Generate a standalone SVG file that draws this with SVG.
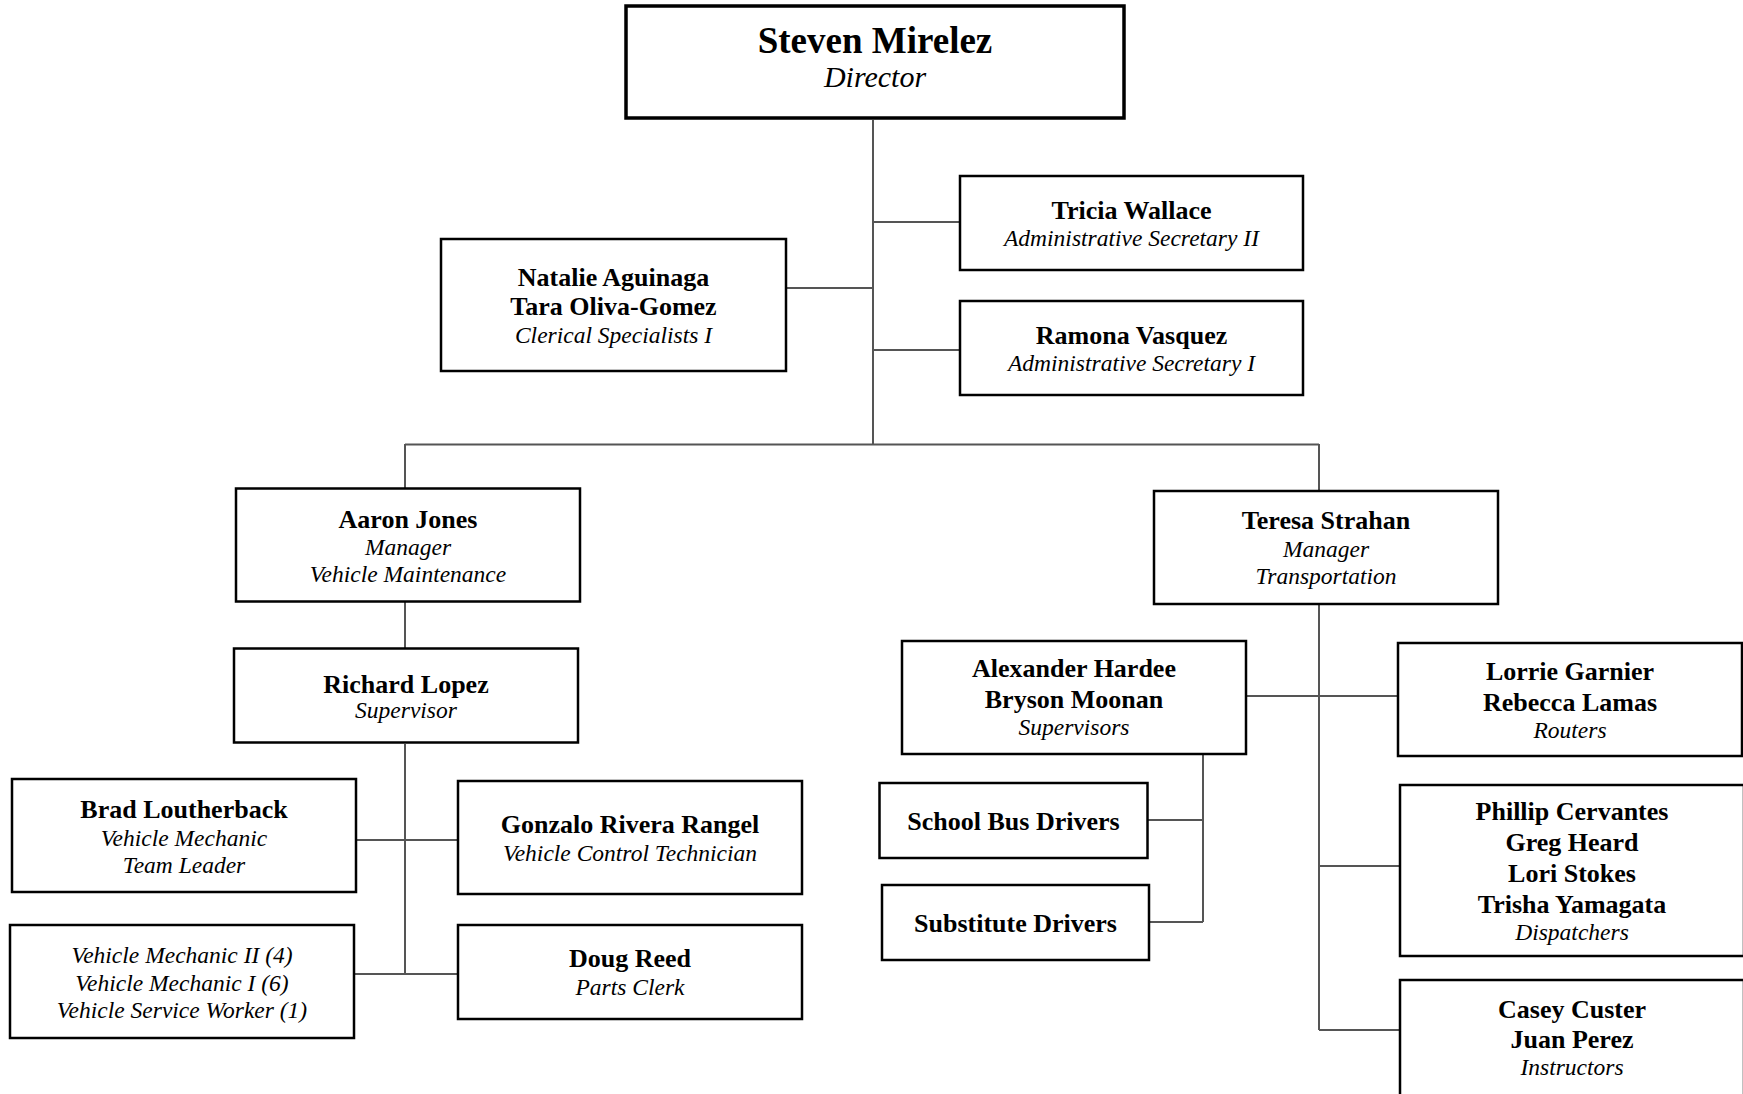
<svg xmlns="http://www.w3.org/2000/svg" width="1743" height="1094" viewBox="0 0 1743 1094">
<style>
.box{fill:#fff;stroke:#000;stroke-width:2.5}
.top{fill:#fff;stroke:#000;stroke-width:3.5}
.c{stroke:#555;stroke-width:2;fill:none}
text{font-family:"Liberation Serif","Times New Roman",serif;text-anchor:middle;fill:#000}
.n{font-weight:bold;font-size:26px}
.r{font-style:italic;font-size:23.5px}
.hn{font-weight:bold;font-size:37px}
.hr{font-style:italic;font-size:30px}
</style>
<rect width="1743" height="1094" fill="#fff"/>
<g id="connectors">
<path class="c" d="M873 120V445M873 222H959M873 350H959M787 288H873M405 444.5H1319M405 444V488M1319 444V490M405 602V648M405 744V974M357 840H457M355 974H457M1319 605V1030M1247 696H1397M1319 866H1399M1319 1030H1399M1203 755V922M1148 820H1203M1150 922H1203"/>
</g>
<g id="director">
<rect class="top" x="626" y="6" width="498" height="112"/>
<text class="hn" x="875" y="52.5">Steven Mirelez</text>
<text class="hr" x="875" y="87">Director</text>
</g>
<g id="tricia">
<rect class="box" x="960" y="176" width="343" height="94"/>
<text class="n" x="1131.5" y="219.3">Tricia Wallace</text>
<text class="r" x="1131.5" y="246">Administrative Secretary II</text>
</g>
<g id="ramona">
<rect class="box" x="960" y="301" width="343" height="94"/>
<text class="n" x="1131.5" y="344">Ramona Vasquez</text>
<text class="r" x="1131.5" y="371">Administrative Secretary I</text>
</g>
<g id="clerical">
<rect class="box" x="441" y="239" width="345" height="132"/>
<text class="n" x="613.5" y="286">Natalie Aguinaga</text>
<text class="n" x="613.5" y="315.3">Tara Oliva-Gomez</text>
<text class="r" x="613.5" y="343.3">Clerical Specialists I</text>
</g>
<g id="aaron">
<rect class="box" x="236" y="488.5" width="344" height="113"/>
<text class="n" x="408" y="527.7">Aaron Jones</text>
<text class="r" x="408" y="555">Manager</text>
<text class="r" x="408" y="581.7">Vehicle Maintenance</text>
</g>
<g id="richard">
<rect class="box" x="234" y="648.5" width="344" height="94"/>
<text class="n" x="406" y="693.3">Richard Lopez</text>
<text class="r" x="406" y="718.3">Supervisor</text>
</g>
<g id="brad">
<rect class="box" x="12" y="779" width="344" height="113"/>
<text class="n" x="184" y="818.3">Brad Loutherback</text>
<text class="r" x="184" y="846">Vehicle Mechanic</text>
<text class="r" x="184" y="872.7">Team Leader</text>
</g>
<g id="gonzalo">
<rect class="box" x="458" y="781" width="344" height="113"/>
<text class="n" x="630" y="832.7">Gonzalo Rivera Rangel</text>
<text class="r" x="630" y="861">Vehicle Control Technician</text>
</g>
<g id="mechanics">
<rect class="box" x="10" y="925" width="344" height="113"/>
<text class="r" x="182" y="963.3">Vehicle Mechanic II (4)</text>
<text class="r" x="182" y="991">Vehicle Mechanic I (6)</text>
<text class="r" x="182" y="1018.3">Vehicle Service Worker (1)</text>
</g>
<g id="doug">
<rect class="box" x="458" y="925" width="344" height="94"/>
<text class="n" x="630" y="967.3">Doug Reed</text>
<text class="r" x="630" y="995">Parts Clerk</text>
</g>
<g id="teresa">
<rect class="box" x="1154" y="491" width="344" height="113"/>
<text class="n" x="1326" y="529.3">Teresa Strahan</text>
<text class="r" x="1326" y="557.3">Manager</text>
<text class="r" x="1326" y="584">Transportation</text>
</g>
<g id="supervisors">
<rect class="box" x="902" y="641" width="344" height="113"/>
<text class="n" x="1074" y="677.3">Alexander Hardee</text>
<text class="n" x="1074" y="708.3">Bryson Moonan</text>
<text class="r" x="1074" y="735">Supervisors</text>
</g>
<g id="routers">
<rect class="box" x="1398" y="643" width="344" height="113"/>
<text class="n" x="1570" y="680">Lorrie Garnier</text>
<text class="n" x="1570" y="710.7">Rebecca Lamas</text>
<text class="r" x="1570" y="738.3">Routers</text>
</g>
<g id="dispatchers">
<rect class="box" x="1400" y="785" width="344" height="171"/>
<text class="n" x="1572" y="820">Phillip Cervantes</text>
<text class="n" x="1572" y="850.7">Greg Heard</text>
<text class="n" x="1572" y="881.7">Lori Stokes</text>
<text class="n" x="1572" y="912.7">Trisha Yamagata</text>
<text class="r" x="1572" y="940">Dispatchers</text>
</g>
<g id="instructors">
<rect class="box" x="1400" y="980" width="344" height="140"/>
<text class="n" x="1572" y="1018.3">Casey Custer</text>
<text class="n" x="1572" y="1048.3">Juan Perez</text>
<text class="r" x="1572" y="1075">Instructors</text>
</g>
<g id="busdrivers">
<rect class="box" x="879.5" y="783" width="268" height="75"/>
<text class="n" x="1013.5" y="830">School Bus Drivers</text>
</g>
<g id="subdrivers">
<rect class="box" x="882" y="885" width="267" height="75"/>
<text class="n" x="1015.5" y="932.3">Substitute Drivers</text>
</g>
</svg>
